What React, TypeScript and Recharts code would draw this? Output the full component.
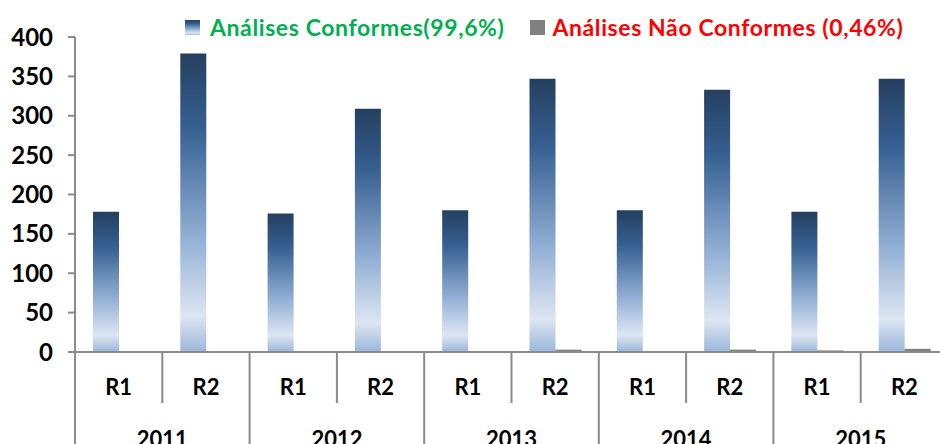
import React from "react";
import { BarChart, Bar, XAxis, YAxis, Legend } from "recharts";

const rounds = ["R1", "R2", "R1", "R2", "R1", "R2", "R1", "R2", "R1", "R2"];
const years = ["2011", "2012", "2013", "2014", "2015"];
const conformes = [178, 379, 176, 309, 180, 347, 180, 333, 178, 347];
const naoConformes = [0, 0, 0, 0, 0, 3, 0, 3, 2, 4];
const yTicks = [0, 50, 100, 150, 200, 250, 300, 350, 400];

const data = rounds.map((round, i) => ({
  round,
  year: years[Math.floor(i / 2)],
  conformes: conformes[i],
  naoConformes: naoConformes[i],
}));

const FONT = "Lato, 'Open Sans', sans-serif";
const AXIS = "#8a8a8a";

const gradientStops = (
  <>
    <stop offset="0%" stopColor="#253f5f" />
    <stop offset="25%" stopColor="#366092" />
    <stop offset="62%" stopColor="#93b0d6" />
    <stop offset="88%" stopColor="#dde6f2" />
    <stop offset="100%" stopColor="#9ab6da" />
  </>
);

const RoundTick = (props: any) => {
  const { x, y, payload } = props;
  const half = payload?.offset ?? 43.6;
  const i = payload?.index ?? props.index ?? 0;
  const yearEnd = i % 2 === 1;
  return (
    <g>
      <text
        x={x}
        y={y + 43}
        textAnchor="middle"
        fontFamily={FONT}
        fontWeight={700}
        fontSize={22}
        fill="#000"
      >
        {payload.value}
      </text>
      {i === 0 && (
        <line x1={x - half} x2={x - half} y1={y} y2={y + 120} stroke={AXIS} strokeWidth={2} />
      )}
      <line
        x1={x + half}
        x2={x + half}
        y1={y}
        y2={y + (yearEnd ? 120 : 51)}
        stroke={AXIS}
        strokeWidth={2}
      />
      {yearEnd && (
        <text
          x={x - half}
          y={y + 95}
          textAnchor="middle"
          fontFamily={FONT}
          fontWeight={700}
          fontSize={22}
          fill="#000"
        >
          {years[Math.floor(i / 2)]}
        </text>
      )}
    </g>
  );
};

const LegendContent = () => (
  <div
    style={{
      display: "flex",
      alignItems: "center",
      fontFamily: FONT,
      fontWeight: 700,
      fontSize: 23,
      letterSpacing: 0.6,
      whiteSpace: "nowrap",
    }}
  >
    <svg width={15} height={15} style={{ marginRight: 10 }}>
      <defs>
        <linearGradient id="legendGrad" x1="0" y1="0" x2="0" y2="1">
          {gradientStops}
        </linearGradient>
      </defs>
      <rect width={15} height={15} fill="url(#legendGrad)" />
    </svg>
    <span style={{ color: "#00b050" }}>Análises Conformes(99,6%)</span>
    <svg width={15} height={15} style={{ marginLeft: 26, marginRight: 7 }}>
      <rect width={15} height={15} fill="#808080" />
    </svg>
    <span style={{ color: "#ff0000" }}>Análises Não Conformes (0,46%)</span>
  </div>
);

export default function App() {
  return (
    <div
      style={{
        position: "absolute",
        left: 0,
        top: 0,
        width: 940,
        height: 444,
        overflow: "hidden",
        background: "#fff",
      }}
    >
      <BarChart
        width={960}
        height={470}
        data={data}
        margin={{ top: 37, right: 12, left: 0, bottom: 0 }}
        barCategoryGap={18}
        barGap={0}
      >
        <defs>
          <linearGradient id="confGrad" x1="0" y1="0" x2="0" y2="1">
            {gradientStops}
          </linearGradient>
        </defs>
        <YAxis
          width={75}
          domain={[0, 400]}
          ticks={yTicks}
          interval={0}
          stroke={AXIS}
          strokeWidth={2}
          tickSize={7}
          tickMargin={15}
          tick={{ fontFamily: FONT, fontWeight: 700, fontSize: 24, fill: "#000" }}
        />
        <XAxis
          dataKey="round"
          height={118}
          interval={0}
          stroke={AXIS}
          strokeWidth={2}
          tickLine={false}
          tickSize={0}
          tickMargin={0}
          tick={<RoundTick />}
        />
        <Legend
          verticalAlign="middle"
          align="center"
          layout="horizontal"
          wrapperStyle={{ top: 13, left: 185, width: 760 }}
          content={<LegendContent />}
        />
        <Bar dataKey="conformes" fill="url(#confGrad)" isAnimationActive={false} />
        <Bar dataKey="naoConformes" fill="#808080" isAnimationActive={false} />
      </BarChart>
    </div>
  );
}
